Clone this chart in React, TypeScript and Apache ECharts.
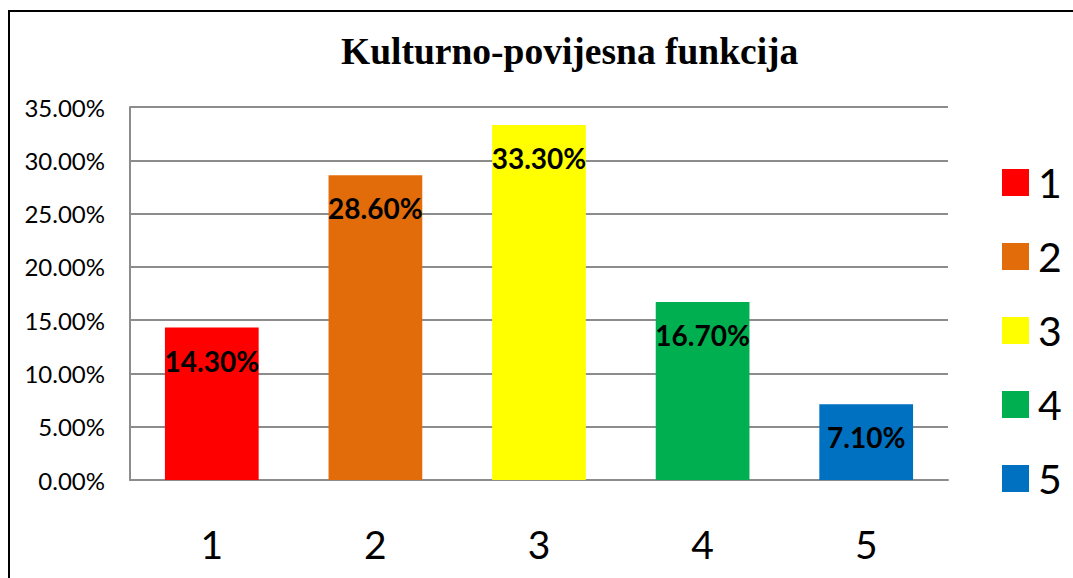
import React, { useEffect, useRef } from "react";
import * as echarts from "echarts";

const title = "Kulturno-povijesna funkcija";
const categories = ["1", "2", "3", "4", "5"];
const values = [14.3, 28.6, 33.3, 16.7, 7.1];
const colors = ["#FF0000", "#E36C0A", "#FFFF00", "#00B050", "#0070C0"];
const yMin = 0;
const yMax = 35;
const yInterval = 5;

export default function App() {
  const ref = useRef<HTMLDivElement>(null);
  useEffect(() => {
    if (!ref.current) return;
    const chart = echarts.init(ref.current, undefined, { renderer: "svg" });
    const series = categories.map((name, i) => ({
      name,
      type: "bar",
      stack: "total",
      barWidth: "57.3%",
      itemStyle: { color: colors[i] },
      label: {
        show: true,
        position: "insideTop",
        distance: 19,
        color: "#000",
        fontFamily: "Lato",
        fontWeight: "bold",
        fontSize: 28,
        formatter: (p: any) => Number(p.value).toFixed(2) + "%",
      },
      data: categories.map((_, j) => (j === i ? values[i] : null)),
    }));
    chart.setOption({
      animation: false,
      backgroundColor: "#fff",
      title: {
        text: title,
        left: 336,
        top: 27,
        textStyle: {
          fontFamily: "Liberation Serif",
          fontWeight: "bold",
          fontSize: 37.5,
          color: "#000",
        },
      },
      legend: {
        orient: "vertical",
        left: 997,
        top: 157,
        icon: "rect",
        itemWidth: 27,
        itemHeight: 27,
        itemGap: 33,
        textStyle: {
          fontFamily: "Lato",
          fontSize: 41,
          lineHeight: 27,
          color: "#000",
          padding: [0, 0, 0, 4],
        },
        data: categories,
      },
      grid: { left: 130, right: 125, top: 107, bottom: 98 },
      xAxis: {
        type: "category",
        data: categories,
        axisLine: { show: true, lineStyle: { color: "#8c8c8c", width: 2 } },
        axisTick: { show: false },
        axisLabel: {
          fontFamily: "Lato",
          fontSize: 39,
          color: "#000",
          margin: 44,
        },
      },
      yAxis: {
        type: "value",
        min: yMin,
        max: yMax,
        interval: yInterval,
        axisLine: { show: true, lineStyle: { color: "#8c8c8c", width: 2 } },
        axisTick: { show: false },
        splitLine: { lineStyle: { color: "#8c8c8c", width: 2 } },
        axisLabel: {
          fontFamily: "Lato",
          fontSize: 24,
          color: "#000",
          margin: 25,
          formatter: (v: number) => v.toFixed(2) + "%",
        },
      },
      graphic: [
        {
          type: "rect",
          shape: { x: 9, y: 11, width: 1200, height: 1000 },
          style: { fill: "none", stroke: "#000", lineWidth: 2 },
          silent: true,
        },
      ],
      series,
    });
    return () => chart.dispose();
  }, []);
  return (
    <div
      ref={ref}
      style={{
        position: "absolute",
        left: 0,
        top: 0,
        width: 1073,
        height: 578,
        overflow: "hidden",
      }}
    />
  );
}
